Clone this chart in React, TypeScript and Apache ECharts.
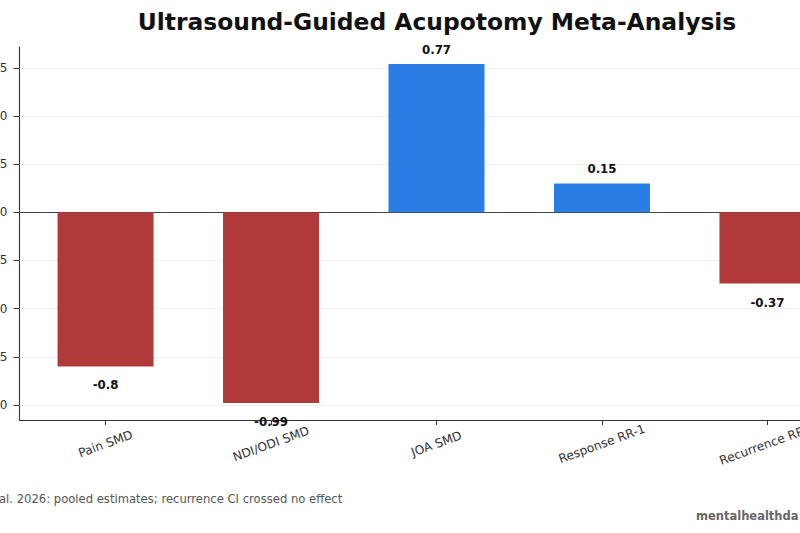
import React, { useEffect, useRef } from "react";
import * as echarts from "echarts";

// Pooled estimates per outcome
const categories = ["Pain SMD", "NDI/ODI SMD", "JOA SMD", "Response RR-1", "Recurrence RR-1"];
const values = [-0.8, -0.99, 0.77, 0.15, -0.37];
const yTicks = [-1.0, -0.75, -0.5, -0.25, 0.0, 0.25, 0.5, 0.75];
const xTicks = [0, 1, 2, 3, 4];

const TITLE = "Ultrasound-Guided Acupotomy Meta-Analysis";
const CAPTION = "al. 2026: pooled estimates; recurrence CI crossed no effect";
const WATERMARK = "mentalhealthda";

const BLUE = "#2b7de6";
const RED = "#b03a3a";
const FONT = "DejaVu Sans";

function fmtTick(v: number): string {
  const s = Math.abs(v).toFixed(2);
  return v < 0 ? "\u2212" + s : s;
}

export default function App() {
  const ref = useRef<HTMLDivElement>(null);

  useEffect(() => {
    if (!ref.current) return;
    const chart = echarts.init(ref.current, undefined, { renderer: "svg" });

    const gridLines = yTicks
      .filter((t) => t !== 0)
      .map((t) => ({ yAxis: t, lineStyle: { color: "#ececec", width: 0.8, type: "solid" as const } }));

    chart.setOption({
      animation: false,
      backgroundColor: "#ffffff",
      textStyle: { fontFamily: FONT },
      grid: {
        left: 19.5,
        top: 47,
        width: 834,
        height: 373,
        containLabel: false,
        outerBoundsMode: "none",
      },
      xAxis: {
        type: "value",
        min: -0.52,
        max: 4.52,
        splitLine: { show: false },
        axisLine: { onZero: false, lineStyle: { color: "#333333", width: 1.1 } },
        axisTick: { show: true, customValues: xTicks, length: 5, lineStyle: { color: "#333333" } },
        axisLabel: {
          customValues: xTicks,
          formatter: (v: number) => categories[Math.round(v)] ?? "",
          rotate: 20,
          align: "center",
          verticalAlign: "middle",
          margin: 24,
          fontSize: 12.2,
          color: "#333333",
          fontFamily: FONT,
        },
      },
      yAxis: {
        type: "value",
        min: -1.078,
        max: 0.858,
        splitLine: { show: false },
        axisLine: { show: true, onZero: false, lineStyle: { color: "#333333", width: 1.1 } },
        axisTick: { show: true, customValues: yTicks, length: 6, lineStyle: { color: "#333333" } },
        axisLabel: {
          customValues: yTicks,
          formatter: (v: number) => fmtTick(v),
          margin: 12,
          fontSize: 12,
          color: "#333333",
          fontFamily: FONT,
        },
      },
      series: [
        {
          type: "bar",
          barWidth: 96,
          data: values.map((v, i) => ({
            value: [i, v],
            itemStyle: { color: v >= 0 ? BLUE : RED },
            label: {
              show: true,
              position: v >= 0 ? "top" : "bottom",
              distance: v >= 0 ? 8 : 13,
              formatter: String(v),
              fontWeight: "bold",
              fontSize: 11.8,
              color: "#111111",
              fontFamily: FONT,
            },
          })),
          markLine: {
            silent: true,
            symbol: "none",
            label: { show: false },
            z: 1,
            data: [
              ...gridLines,
              { yAxis: 0, lineStyle: { color: "#444444", width: 1.1, type: "solid" as const } },
            ],
          },
        },
      ],
      graphic: [
        {
          type: "text",
          x: 437,
          y: 22,
          style: {
            text: TITLE,
            align: "center",
            verticalAlign: "middle",
            font: `bold 23.4px "${FONT}"`,
            fill: "#111111",
          },
        },
        {
          type: "text",
          x: -1,
          y: 499,
          style: {
            text: CAPTION,
            align: "left",
            verticalAlign: "middle",
            font: `11.6px "${FONT}"`,
            fill: "#555555",
          },
        },
        {
          type: "text",
          x: 696,
          y: 516,
          style: {
            text: WATERMARK,
            align: "left",
            verticalAlign: "middle",
            font: `bold 11.5px "${FONT}"`,
            fill: "#666666",
          },
        },
      ],
    });

    return () => chart.dispose();
  }, []);

  return (
    <div
      ref={ref}
      style={{ position: "absolute", left: 0, top: 0, width: 800, height: 533, overflow: "hidden" }}
    />
  );
}
